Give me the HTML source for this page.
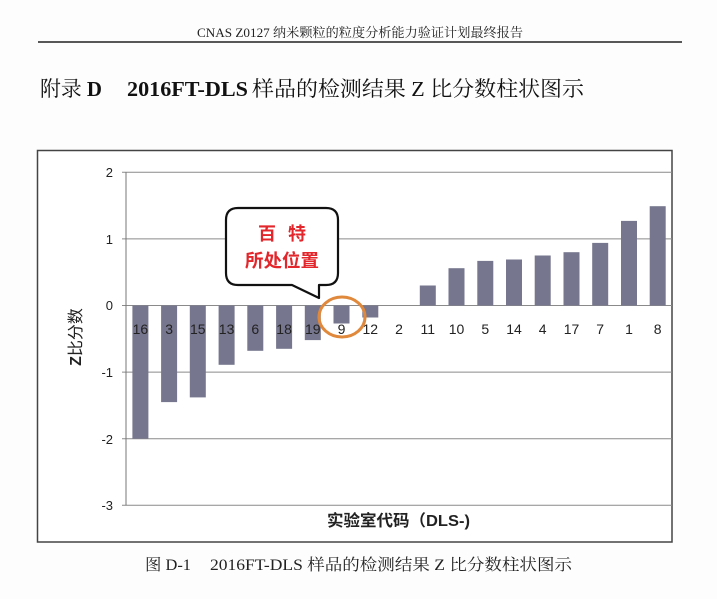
<!DOCTYPE html>
<html><head><meta charset="utf-8"><style>
html,body{margin:0;padding:0;background:#fff;}
svg{display:block;}
</style></head><body>
<svg width="717" height="599" viewBox="0 0 717 599" xmlns="http://www.w3.org/2000/svg">
<rect x="0" y="0" width="717" height="599" fill="#fdfdfd"/>
<!-- header -->
<text x="197" y="37" font-family="Liberation Serif, Noto Serif CJK SC, serif" font-size="13" fill="#222" textLength="326" lengthAdjust="spacingAndGlyphs">CNAS Z0127 纳米颗粒的粒度分析能力验证计划最终报告</text>
<line x1="38" y1="42" x2="682" y2="42" stroke="#222" stroke-width="1.5"/>
<!-- title -->
<g font-family="Liberation Serif, Noto Serif CJK SC, serif" font-size="21" fill="#111">
<text x="40" y="96" textLength="62" lengthAdjust="spacingAndGlyphs">附录 <tspan font-weight="bold">D</tspan></text>
<text x="127" y="96" font-weight="bold" textLength="121" lengthAdjust="spacingAndGlyphs">2016FT-DLS</text>
<text x="252" y="96" textLength="332" lengthAdjust="spacingAndGlyphs">样品的检测结果 Z 比分数柱状图示</text>
</g>
<!-- frame -->
<rect x="37.5" y="150.5" width="634.5" height="391.5" fill="#fff" stroke="#444" stroke-width="1.5"/>
<!-- gridlines -->
<g stroke="#8a8a8a" stroke-width="1">
<line x1="122" y1="172.3" x2="672" y2="172.3"/>
<line x1="122" y1="238.9" x2="672" y2="238.9"/>
<line x1="122" y1="305.5" x2="672" y2="305.5"/>
<line x1="122" y1="372.1" x2="672" y2="372.1"/>
<line x1="122" y1="438.7" x2="672" y2="438.7"/>
<line x1="122" y1="505.3" x2="672" y2="505.3"/>
<line x1="126" y1="172.3" x2="126" y2="505.3" stroke="#777"/>
</g>
<!-- y tick labels -->
<g font-family="Liberation Sans, sans-serif" font-size="13" fill="#222" text-anchor="end">
<text x="113" y="177">2</text>
<text x="113" y="244">1</text>
<text x="113" y="310">0</text>
<text x="113" y="377">-1</text>
<text x="113" y="444">-2</text>
<text x="113" y="510">-3</text>
</g>
<!-- bars -->
<g fill="#76768e">
<rect x="132.4" y="305.5" width="16" height="133.2"/>
<rect x="161.1" y="305.5" width="16" height="96.6"/>
<rect x="189.8" y="305.5" width="16" height="91.9"/>
<rect x="218.6" y="305.5" width="16" height="59.3"/>
<rect x="247.3" y="305.5" width="16" height="45.3"/>
<rect x="276.1" y="305.5" width="16" height="43.3"/>
<rect x="304.8" y="305.5" width="16" height="34.6"/>
<rect x="333.5" y="305.5" width="16" height="18.0"/>
<rect x="362.3" y="305.5" width="16" height="12.0"/>
<rect x="419.8" y="285.5" width="16" height="20.0"/>
<rect x="448.5" y="268.2" width="16" height="37.3"/>
<rect x="477.3" y="260.9" width="16" height="44.6"/>
<rect x="506.0" y="259.5" width="16" height="46.0"/>
<rect x="534.7" y="255.5" width="16" height="50.0"/>
<rect x="563.5" y="252.2" width="16" height="53.3"/>
<rect x="592.2" y="242.9" width="16" height="62.6"/>
<rect x="621.0" y="220.9" width="16" height="84.6"/>
<rect x="649.7" y="206.2" width="16" height="99.3"/>
</g>
<!-- category labels -->
<g font-family="Liberation Sans, sans-serif" font-size="14" fill="#222" text-anchor="middle">
<text x="140.4" y="334">16</text>
<text x="169.1" y="334">3</text>
<text x="197.8" y="334">15</text>
<text x="226.6" y="334">13</text>
<text x="255.3" y="334">6</text>
<text x="284.1" y="334">18</text>
<text x="312.8" y="334">19</text>
<text x="341.5" y="334">9</text>
<text x="370.3" y="334">12</text>
<text x="399.0" y="334">2</text>
<text x="427.8" y="334">11</text>
<text x="456.5" y="334">10</text>
<text x="485.3" y="334">5</text>
<text x="514.0" y="334">14</text>
<text x="542.7" y="334">4</text>
<text x="571.5" y="334">17</text>
<text x="600.2" y="334">7</text>
<text x="629.0" y="334">1</text>
<text x="657.7" y="334">8</text>
</g>
<!-- y axis title -->
<text x="0" y="0" transform="translate(81,337) rotate(-90)" font-family="Liberation Sans, Noto Sans CJK SC, sans-serif" font-size="16" fill="#222" text-anchor="middle"><tspan font-weight="bold">Z</tspan>比分数</text>
<!-- x axis title -->
<text x="327" y="526" font-family="Liberation Sans, Noto Sans CJK SC, sans-serif" font-size="16" font-weight="bold" fill="#222" textLength="143" lengthAdjust="spacingAndGlyphs">实验室代码（DLS-)</text>
<!-- callout -->
<path d="M238,208 H326 Q338,208 338,220 V273 Q338,285 326,285 H319 V298 L292,285 H238 Q226,285 226,273 V220 Q226,208 238,208 Z" fill="#fff" stroke="#111" stroke-width="2.2" stroke-linejoin="round"/>
<g font-family="Noto Sans CJK SC, sans-serif" font-size="18" font-weight="bold" fill="#e3262b" text-anchor="middle">
<text x="267" y="240">百</text>
<text x="297" y="240">特</text>
<text x="282" y="267" textLength="74" lengthAdjust="spacingAndGlyphs">所处位置</text>
</g>
<!-- highlight ellipse -->
<ellipse cx="342" cy="317" rx="23" ry="20" fill="none" stroke="#e0893c" stroke-width="3"/>
<!-- caption -->
<g font-family="Liberation Serif, Noto Serif CJK SC, serif" font-size="16" fill="#222">
<text x="145" y="570" textLength="46" lengthAdjust="spacingAndGlyphs">图 D-1</text>
<text x="210" y="570" textLength="362" lengthAdjust="spacingAndGlyphs">2016FT-DLS 样品的检测结果 Z 比分数柱状图示</text>
</g>
</svg>
</body></html>
